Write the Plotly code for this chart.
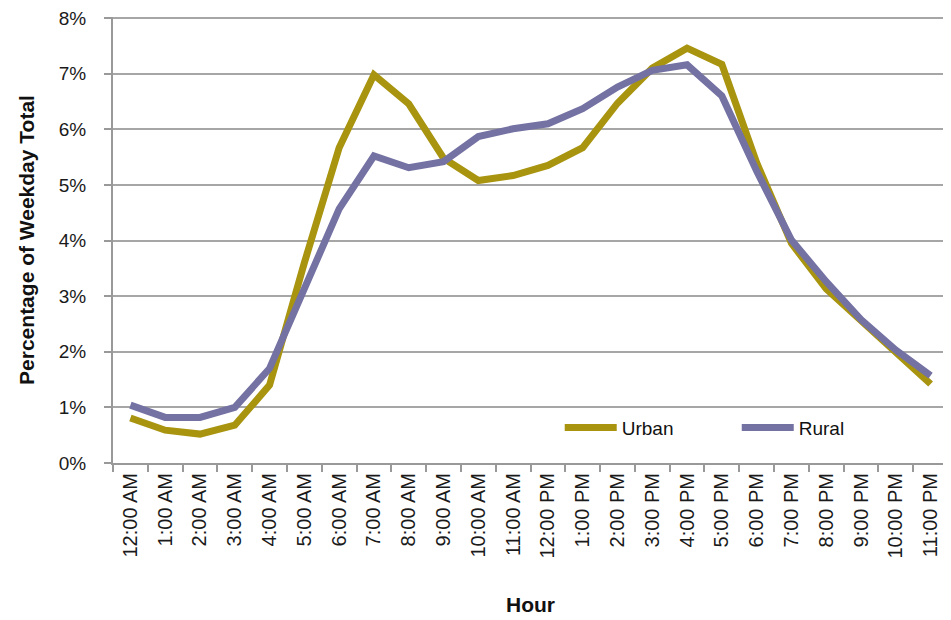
import plotly.graph_objects as go

hours = ["12:00 AM", "1:00 AM", "2:00 AM", "3:00 AM", "4:00 AM", "5:00 AM",
         "6:00 AM", "7:00 AM", "8:00 AM", "9:00 AM", "10:00 AM", "11:00 AM",
         "12:00 PM", "1:00 PM", "2:00 PM", "3:00 PM", "4:00 PM", "5:00 PM",
         "6:00 PM", "7:00 PM", "8:00 PM", "9:00 PM", "10:00 PM", "11:00 PM"]

urban = [0.81, 0.59, 0.52, 0.68, 1.40, 3.60, 5.67, 6.98, 6.46, 5.48, 5.08, 5.17,
         5.35, 5.67, 6.47, 7.10, 7.46, 7.17, 5.40, 3.95, 3.13, 2.56, 2.00, 1.42]
rural = [1.04, 0.82, 0.82, 1.00, 1.70, 3.15, 4.57, 5.52, 5.31, 5.42, 5.87, 6.01,
         6.10, 6.37, 6.76, 7.06, 7.16, 6.60, 5.25, 4.01, 3.26, 2.58, 2.03, 1.57]

yticks = [0, 1, 2, 3, 4, 5, 6, 7, 8]
ytick_text = [f"{v}%" for v in yticks]

fig = go.Figure()
fig.add_trace(go.Scatter(x=hours, y=urban, name="Urban", mode="lines", showlegend=True,
                         line=dict(color="#A8940F", width=7)))
fig.add_trace(go.Scatter(x=hours, y=rural, name="Rural", mode="lines", showlegend=True,
                         line=dict(color="#7471A3", width=7), legend="legend2"))

legend_common = dict(orientation="v", xanchor="left", yanchor="middle",
                     bgcolor="rgba(0,0,0,0)", font=dict(size=19, color="#111111"),
                     itemwidth=52, visible=True)

# page body has an 8px margin: figure sized so plot area lands at x 113..948, y 17..463
fig.update_layout(
    width=943, height=612,
    margin=dict(l=105, r=3, t=9, b=157),
    plot_bgcolor="white", paper_bgcolor="white",
    font=dict(family="Liberation Sans, Arial, sans-serif", size=19, color="#222222"),
    legend=dict(x=0.535, y=0.079, **legend_common),
    legend2=dict(x=0.747, y=0.079, **legend_common),
    xaxis=dict(type="category", tickson="boundaries", ticks="outside", ticklen=7,
               tickcolor="#999999", tickwidth=2, tickangle=-90,
               showline=True, linecolor="#999999", linewidth=2,
               showgrid=False, range=[-0.5, 23.5], automargin=False,
               tickfont=dict(size=20, color="#1a1a1a"),
               title=dict(text="<b>Hour</b>",
                          font=dict(size=21, color="#111111"),
                          standoff=40)),
    yaxis=dict(range=[0, 8.02], tickvals=yticks, ticktext=ytick_text,
               ticks="outside", ticklen=7, tickcolor="#999999", tickwidth=2,
               showline=True, linecolor="#999999", linewidth=2,
               showgrid=True, gridcolor="#A6A6A6", gridwidth=2,
               zeroline=False, automargin=False, ticklabelstandoff=14,
               ticklabeloverflow="allow",
               tickfont=dict(size=19, color="#1a1a1a"),
               title=dict(text="<b>Percentage of Weekday Total</b>",
                          font=dict(size=21, color="#111111"), standoff=18)),
)

fig.write_html("out.html")
